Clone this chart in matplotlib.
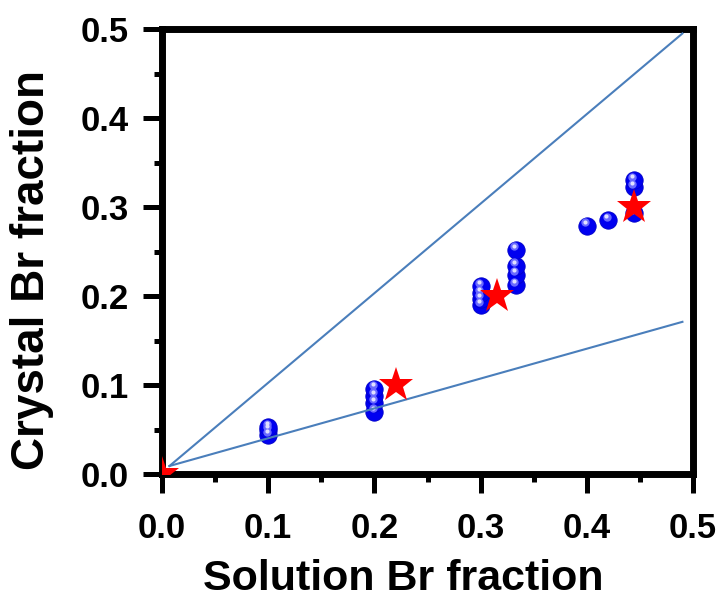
import numpy as np
import matplotlib
matplotlib.use('Agg')
import matplotlib.pyplot as plt
from matplotlib.transforms import offset_copy

# -------- data --------

# measured compositions (blue balls)
sol_x = [0.1, 0.1, 0.1,
         0.2, 0.2, 0.2, 0.2,
         0.3, 0.3, 0.3, 0.3,
         0.333, 0.333, 0.333, 0.333,
         0.4, 0.42,
         0.444, 0.444, 0.444]
cry_y = [0.044, 0.049, 0.053,
         0.070, 0.080, 0.088, 0.096,
         0.190, 0.197, 0.203, 0.211,
         0.212, 0.224, 0.234, 0.252,
         0.279, 0.285,
         0.293, 0.322, 0.330]

# red stars
star_x = [0.0, 0.22, 0.315, 0.444]
star_y = [0.0, 0.10, 0.20, 0.30]

# guide lines
line1_x = [0.007, 0.49]
line1_y = [0.009, 0.495]
line2_x = [0.007, 0.49]
line2_y = [0.009, 0.171]

xticks = [0.0, 0.1, 0.2, 0.3, 0.4, 0.5]
yticks = [0.0, 0.1, 0.2, 0.3, 0.4, 0.5]

# -------- plot --------

plt.rcParams['font.family'] = ['Liberation Sans', 'DejaVu Sans']
plt.rcParams['font.weight'] = 'bold'

fig = plt.figure(figsize=(7.22, 6.02), dpi=100)
ax = fig.add_axes([0.2244, 0.2126, 0.7355, 0.7392])

# shaded balls: blue body + lighter highlight shifted up-left
ax.plot(sol_x, cry_y, 'o', ms=12.5, color='#0000f0', mec='#0000c8', mew=0.6, zorder=3)
hl1 = offset_copy(ax.transData, fig=fig, x=-1.0, y=2.4, units='points')
ax.plot(sol_x, cry_y, 'o', ms=6, color='#6a6aff', mew=0, transform=hl1, zorder=3.1)
hl2 = offset_copy(ax.transData, fig=fig, x=-1.2, y=3.0, units='points')
ax.plot(sol_x, cry_y, 'o', ms=3, color='#e0e0ff', mew=0, transform=hl2, zorder=3.2)

ax.plot(line1_x, line1_y, '-', color='#4a7ebb', lw=1.5, zorder=4)
ax.plot(line2_x, line2_y, '-', color='#4a7ebb', lw=1.5, zorder=4)

ax.plot(star_x, star_y, '*', ms=26, color='#ff0000', mew=0, zorder=5)

ax.set_xlim(0, 0.5)
ax.set_ylim(0, 0.5)
ax.set_xticks(xticks)
ax.set_yticks(yticks)
ax.set_xticks(np.arange(0.05, 0.5, 0.1), minor=True)
ax.set_yticks(np.arange(0.05, 0.5, 0.1), minor=True)
ax.set_xticklabels(['%.1f' % v for v in xticks])
ax.set_yticklabels(['%.1f' % v for v in yticks])

for s in ax.spines.values():
    s.set_linewidth(5)
ax.tick_params(which='major', direction='out', length=14, width=3.6,
               labelsize=25, pad=10)
ax.tick_params(which='minor', direction='out', length=6, width=3.6)
ax.tick_params(axis='x', which='both', top=False)
ax.tick_params(axis='y', which='both', right=False)
ax.tick_params(axis='x', which='major', pad=13)
for lab in ax.get_xticklabels() + ax.get_yticklabels():
    lab.set_fontweight('bold')

ax.set_xlabel('Solution Br fraction', fontsize=31, fontweight='bold')
ax.set_ylabel('Crystal Br fraction', fontsize=33, fontweight='bold')
ax.xaxis.set_label_coords(0.454, -0.19)
ax.yaxis.set_label_coords(-0.204, 0.458)

fig.savefig('out.png', dpi=100)
